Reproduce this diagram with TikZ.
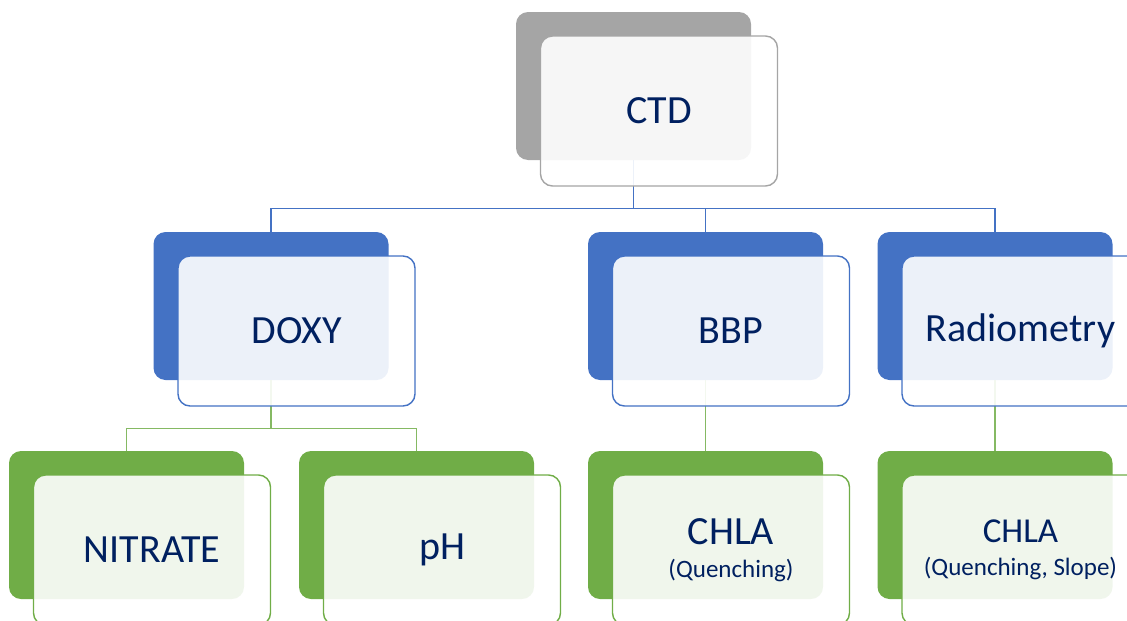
\documentclass[tikz,border=0pt]{standalone}
\usepackage{fontspec}
\setmainfont{Carlito}
\usetikzlibrary{positioning}
\definecolor{accBlue}{HTML}{4472C4}
\definecolor{accGreen}{HTML}{70AD47}
\definecolor{accGray}{HTML}{A5A5A5}
\definecolor{txtNavy}{HTML}{002060}
\tikzset{
	backbox/.style={rounded corners=12pt, minimum width=235pt, minimum height=148pt, inner sep=0pt},
	frontbox/.style={draw, line width=1.4pt, rounded corners=12pt, fill=white, fill opacity=0.9, text opacity=1,
		minimum width=237pt, minimum height=150pt, inner sep=0pt, text=txtNavy, align=center,
		font=\fontsize{40}{48}\selectfont},
	twoline/.style={font=\fontsize{25}{33}\selectfont},
	bluelink/.style={draw=accBlue, line width=1.4pt},
	greenlink/.style={draw=accGreen!85!white, line width=1.4pt},
}
\begin{document}
\begin{tikzpicture}[x=1pt, y=-1pt]
			%%%%% START %%%%%
			\useasboundingbox (0,0) rectangle (1127,621);
			
			% back boxes
			\node[backbox, fill=accGray] (ctdback) at (633.5, 86) {};
			\node[backbox, fill=accBlue] (doxyback) at (271, 306) {};
			\node[backbox, fill=accBlue] (bbpback) at (705.5, 306) {};
			\node[backbox, fill=accBlue] (radioback) at (995, 306) {};
			\node[backbox, fill=accGreen] (nitback) at (126.5, 525) {};
			\node[backbox, fill=accGreen] (phback) at (416.5, 525) {};
			\node[backbox, fill=accGreen] (chlaoneback) at (705.5, 525) {};
			\node[backbox, fill=accGreen] (chlatwoback) at (995, 525) {};
			
			% links
			\coordinate (busA) at ([yshift=-48pt]ctdback.south);
			\draw[bluelink] (ctdback.south) -- (busA);
			\draw[bluelink] (busA) -| (doxyback.north);
			\draw[bluelink] (busA) -| (bbpback.north);
			\draw[bluelink] (busA) -| (radioback.north);
			
			\coordinate (busB) at ([yshift=-48pt]doxyback.south);
			\draw[greenlink] (doxyback.south) -- (busB);
			\draw[greenlink] (busB) -| (nitback.north);
			\draw[greenlink] (busB) -| (phback.north);
			\draw[greenlink] (bbpback.south) -- (chlaoneback.north);
			\draw[greenlink] (radioback.south) -- (chlatwoback.north);
			
			% front boxes
			\node[frontbox, draw=accGray] (ctd) at ([shift={(25.5,25)}]ctdback.center) {CTD};
			\node[frontbox, draw=accBlue] (doxy) at ([shift={(25.5,25)}]doxyback.center) {DOXY};
			\node[frontbox, draw=accBlue] (bbp) at ([shift={(25.5,25)}]bbpback.center) {BBP};
			\node[frontbox, draw=accBlue] (radio) at ([shift={(25.5,25)}]radioback.center) {Radiometry};
			\node[frontbox, draw=accGreen] (nitrate) at ([shift={(25.5,25)}]nitback.center) {NITRATE};
			\node[frontbox, draw=accGreen] (ph) at ([shift={(25.5,25)}]phback.center) {pH};
			\node[frontbox, draw=accGreen, twoline] (chlaone) at ([shift={(25.5,25)}]chlaoneback.center)
				{{\fontsize{40}{40}\selectfont CHLA}\\(Quenching)};
			\node[frontbox, draw=accGreen, twoline] (chlatwo) at ([shift={(25.5,25)}]chlatwoback.center)
				{{\fontsize{35}{35}\selectfont CHLA}\\(Quenching, Slope)};
			
			%%%%% END %%%%%
\end{tikzpicture}
\end{document}
